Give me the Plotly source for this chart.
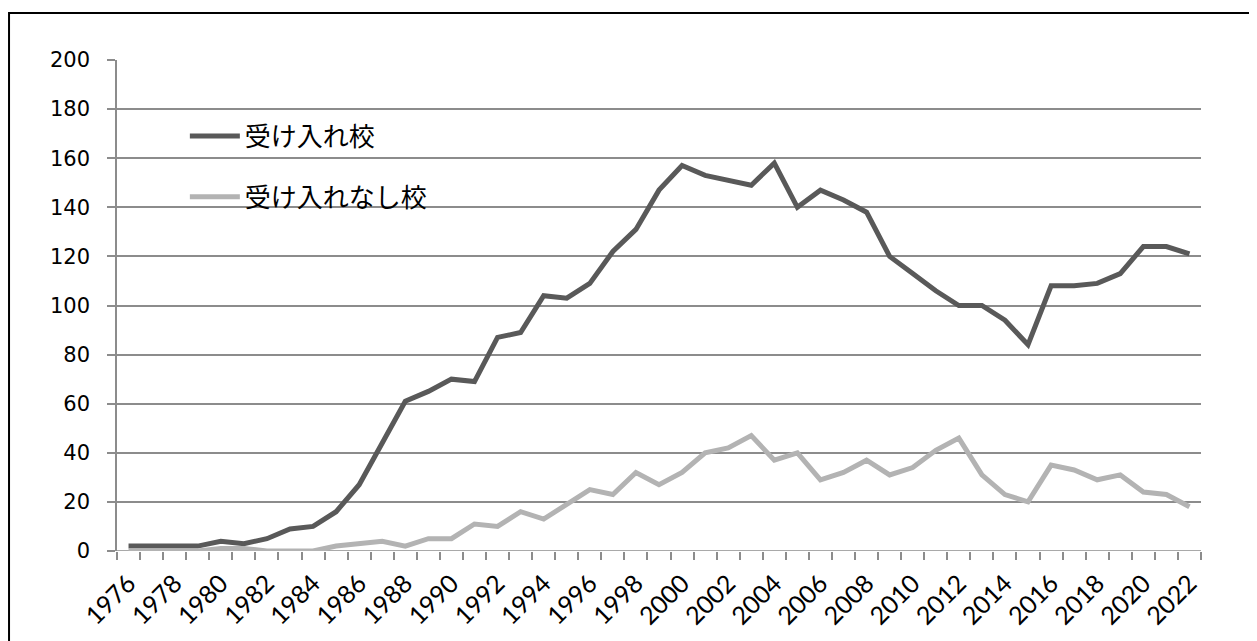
import plotly.graph_objects as go

years = list(range(1976, 2023))
accepting = [2, 2, 2, 2, 4, 3, 5, 9, 10, 16, 27, 44, 61, 65, 70, 69, 87, 89, 104, 103,
             109, 122, 131, 147, 157, 153, 151, 149, 158, 140, 147, 143, 138, 120, 113, 106,
             100, 100, 94, 84, 108, 108, 109, 113, 124, 124, 121]
not_accepting = [0, 0, 0, 0, 1, 1, 0, 0, 0, 2, 3, 4, 2, 5, 5, 11, 10, 16, 13, 19,
                 25, 23, 32, 27, 32, 40, 42, 47, 37, 40, 29, 32, 37, 31, 34, 41,
                 46, 31, 23, 20, 35, 33, 29, 31, 24, 23, 18]
names = ["受け入れ校", "受け入れなし校"]
label_years = list(range(1976, 2023, 2))
y_ticks = list(range(0, 201, 20))

fig = go.Figure()
fig.add_trace(go.Scatter(x=years, y=accepting, mode="lines", name=names[0],
                         line=dict(color="#595959", width=5), legendgroup="a"))
fig.add_trace(go.Scatter(x=years, y=not_accepting, mode="lines", name=names[1],
                         line=dict(color="#b3b3b3", width=5), legendgroup="b"))

grid = "#8c8c8c"
fig.update_layout(
    width=1249, height=633,
    margin=dict(l=109, r=56, t=52, b=90),
    paper_bgcolor="white", plot_bgcolor="white",
    showlegend=True,
    legend=dict(x=0.0626, y=0.893, xanchor="left", yanchor="top",
                bgcolor="rgba(0,0,0,0)", tracegroupgap=24, itemwidth=50,
                font=dict(family="Noto Sans CJK JP", size=26, color="black")),
    xaxis=dict(range=[1975.5, 2022.5], tickvals=label_years,
               ticktext=[str(y) for y in label_years], tickangle=-45,
               ticks="", showgrid=False, zeroline=False,
               showline=False, ticklabelstandoff=12,
               tickfont=dict(family="Lato", size=25, color="black"),
               minor=dict(ticks="outside", ticklen=8, tickcolor=grid, tickwidth=1.5,
                          tick0=1975.5, dtick=1, showgrid=False)),
    yaxis=dict(range=[0, 200], tickvals=y_ticks, ticks="outside", ticklen=8,
               tickcolor=grid, tickwidth=1.5, showgrid=True, gridcolor=grid, gridwidth=1.5,
               zeroline=False, showline=True, linecolor=grid, linewidth=1.5,
               ticklabelstandoff=13,
               tickfont=dict(family="DejaVu Sans", size=21, color="black")),
    shapes=[
        dict(type="line", xref="paper", yref="y", x0=0, x1=1, y0=0, y1=0,
             line=dict(color=grid, width=1.5), layer="below"),
        dict(type="rect", xref="paper", yref="paper", x0=-0.0996, x1=1.06,
             y0=-0.2, y1=1.0957, line=dict(color="black", width=2)),
    ],
)

fig.write_html("out.html")
